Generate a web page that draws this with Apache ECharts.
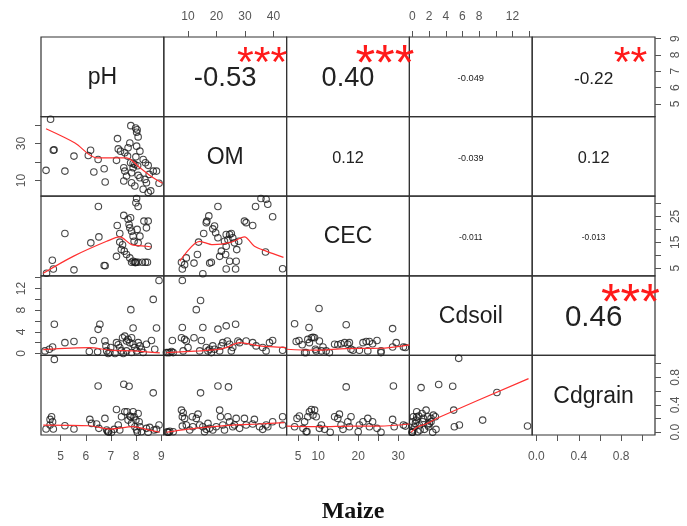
<!DOCTYPE html>
<html><head><meta charset="utf-8">
<script src="https://cdn.jsdelivr.net/npm/echarts@6/dist/echarts.min.js"></script>
<style>html,body{margin:0;padding:0;background:#fff}#c{width:687px;height:526px}</style>
</head><body><div id="c"></div>
<script>
// ---------------- DATA ----------------
const varNames = ['pH', 'OM', 'CEC', 'Cdsoil', 'Cdgrain'];
const varMin = [4.22, 1.5, 2.1, -0.36, -0.04];
const varMax = [9.1, 44.6, 32.8, 14.36, 1.12];

const ticksPH = [5, 6, 7, 8, 9];
const ticksOM = [10, 20, 30, 40];
const ticksCEC = [5, 10, 15, 20, 25, 30];
const ticksCdsoil = [0, 2, 4, 6, 8, 10, 12, 14];
const ticksCdgrain = [0, 0.2, 0.4, 0.6, 0.8, 1.0];

const topLabelsOM = [10, 20, 30, 40];
const topLabelsCdsoil = [0, 2, 4, 6, 8, 12];
const bottomLabelsPH = [5, 6, 7, 8, 9];
const bottomLabelsCEC = [5, 10, 20, 30];
const bottomLabelsCdgrain = [0, 0.4, 0.8];
const leftLabelsOM = [10, 30];
const leftLabelsCdsoil = [0, 4, 8, 12];
const rightLabelsPH = [5, 6, 7, 8, 9];
const rightLabelsCEC = [5, 15, 25];
const rightLabelsCdgrain = [0, 0.4, 0.8];

// upper panels, order (row,col): (0,1)(0,2)(0,3)(0,4)(1,2)(1,3)(1,4)(2,3)(2,4)(3,4)
const corrRows = [0, 0, 0, 0, 1, 1, 1, 2, 2, 3];
const corrCols = [1, 2, 3, 4, 2, 3, 4, 3, 4, 4];
const corrValues = [-0.53, 0.40, -0.049, -0.22, 0.12, -0.039, 0.12, -0.011, -0.013, 0.46];
const corrLabels = ['-0.53', '0.40', '-0.049', '-0.22', '0.12', '-0.039', '0.12', '-0.011', '-0.013', '0.46'];
const corrStars = ['***', '***', '', '**', '', '', '', '', '', '***'];

const pH_OM = [[4.6,43.2],[4.42,15.5],[4.71,26.4],[4.74,26.6],[5.17,15.1],[5.53,23.2],[6.19,26.4],[6.1,23.5],[6.49,21.4],[6.32,14.6],[6.73,16.4],[6.77,9.2],[7.22,20.9],[7.26,32.7],[7.29,27.1],[7.38,25.9],[7.79,39.7],[7.98,38.4],[8.04,37.5],[8.02,36.1],[8.08,33.6],[7.75,30.3],[7.68,27.7],[7.55,25.0],[7.66,23.2],[7.78,19.6],[7.88,19.2],[7.95,18.7],[8.06,18.0],[8.15,25.9],[7.99,22.8],[8.28,21.4],[8.37,19.6],[8.48,18.2],[8.68,15.1],[8.81,15.1],[8.52,13.3],[8.15,11.5],[8.35,10.6],[8.41,8.8],[8.28,5.3],[8.48,3.5],[8.58,4.4],[8.91,8.5],[7.51,16.9],[7.55,15.1],[7.82,14.2],[7.62,12.4],[7.51,9.7],[7.82,8.8],[7.95,7.0],[8.08,12.8],[7.88,16.9],[8.02,28.6]];
const fit_pH_OM = [[4.42,38.0],[5.57,30.3],[6.43,22.3],[7.62,22.3],[8.15,16.9],[8.68,11.5],[9.05,8.5]];

const pH_CEC = [[4.44,3.1],[4.67,8.1],[4.71,4.7],[5.17,18.4],[5.53,4.4],[6.2,14.8],[6.5,28.8],[6.52,17.1],[6.73,6.1],[6.77,6.0],[7.22,9.6],[7.25,21.5],[7.35,18.4],[7.46,14.1],[7.51,25.4],[7.68,23.9],[7.72,21.9],[7.75,20.6],[7.82,19.3],[7.88,17.4],[7.92,15.4],[8.02,31.9],[7.99,30.3],[8.08,28.8],[7.78,24.5],[8.04,20.0],[8.08,14.8],[8.31,23.2],[8.48,23.2],[8.41,20.6],[8.15,17.4],[8.48,13.5],[7.53,11.6],[7.62,10.3],[7.75,9.0],[7.88,7.7],[7.82,7.3],[7.95,7.3],[7.97,7.2],[8.0,7.3],[8.08,7.3],[8.25,7.3],[8.37,7.3],[8.45,7.3],[7.35,15.1],[7.41,12.2]];
const fit_pH_CEC = [[4.31,3.1],[5.5,9.6],[6.83,15.4],[7.35,17.1],[7.82,14.1],[8.41,13.5],[8.6,13.2]];

const OM_CEC = [[7.7,7.3],[8.8,6.4],[8.0,4.7],[9.4,9.0],[12.1,7.0],[13.3,10.3],[15.2,2.9],[15.5,18.4],[13.7,15.1],[16.6,23.2],[17.3,25.2],[16.4,22.6],[20.5,28.8],[17.6,7.0],[18.2,7.3],[18.7,20.2],[19.3,21.3],[19.7,18.7],[21.1,9.6],[21.7,11.6],[20.5,16.8],[23.4,18.0],[24.6,18.0],[25.2,18.4],[24.0,16.1],[23.4,13.5],[23.2,10.3],[24.6,7.7],[25.7,16.8],[26.3,14.8],[27.1,12.2],[27.8,15.4],[26.9,7.7],[23.4,4.7],[26.7,4.7],[29.8,23.2],[30.4,22.6],[32.7,21.5],[33.7,28.8],[35.6,31.9],[37.4,31.6],[38.0,29.7],[39.7,24.9],[37.2,11.3],[43.2,4.8],[22.8,15.4]];
const fit_OM_CEC = [[7.1,7.7],[14.1,15.4],[18.7,14.1],[25.0,15.0],[29.8,17.1],[33.3,13.5],[37.4,11.6],[43.5,9.2]];

const pH_Cdsoil = [[4.38,0.47],[4.55,0.78],[4.68,1.2],[4.75,5.4],[5.17,2.0],[5.53,2.2],[6.14,0.35],[6.3,2.4],[6.47,0.3],[6.49,4.46],[6.56,5.4],[6.76,2.3],[6.8,1.4],[6.83,0.47],[6.89,0.0],[6.96,0.17],[7.22,2.0],[7.29,1.6],[7.35,1.1],[7.42,0.47],[7.46,2.9],[7.55,3.2],[7.62,2.3],[7.68,2.6],[7.75,2.0],[7.79,8.1],[7.82,2.9],[7.88,4.7],[7.88,1.7],[7.95,1.1],[8.02,0.47],[8.08,2.0],[8.15,1.4],[8.21,0.78],[8.28,0.17],[8.41,1.7],[8.61,2.4],[8.68,10.0],[8.74,0.78],[8.81,4.7],[8.91,13.5],[7.62,0.47],[7.82,0.17],[7.49,0.0],[7.16,0.0],[6.99,1.1]];
const fit_pH_Cdsoil = [[4.31,0.72],[6.16,1.08],[6.96,0.6],[7.88,0.47],[8.41,0.3],[8.94,0.1]];

const OM_Cdsoil = [[3.6,0.16],[4.2,0.35],[4.8,0.16],[8.0,13.5],[4.5,2.4],[7.7,2.9],[8.0,4.8],[8.3,0.47],[8.8,2.6],[9.4,2.3],[10.0,1.1],[12.1,2.9],[12.9,8.1],[14.4,9.8],[14.7,2.4],[15.2,4.8],[14.1,0.47],[16.4,1.1],[17.0,0.47],[18.2,0.16],[19.3,0.78],[20.5,4.5],[21.7,1.4],[22.2,2.0],[23.4,5.1],[23.8,2.3],[24.6,1.7],[25.2,0.47],[25.7,1.1],[26.7,5.4],[27.5,2.3],[28.1,2.0],[30.4,2.3],[32.7,2.0],[33.9,1.4],[36.2,1.1],[37.4,0.47],[38.6,2.0],[39.7,2.4],[43.2,0.6],[17.6,0.78],[18.7,1.4],[21.1,0.47],[2.4,0.16],[3.0,0.16]];
const fit_OM_Cdsoil = [[2.4,0.16],[14.1,0.47],[19.9,0.7],[23.4,1.08],[28.1,2.0],[35.1,1.4],[44.4,1.08]];

const CEC_Cdsoil = [[4.1,5.5],[4.5,2.2],[5.2,2.4],[6.0,1.6],[6.6,0.16],[7.0,0.16],[7.4,2.6],[7.7,4.8],[7.8,2.0],[8.3,2.9],[8.7,3.0],[9.1,2.9],[9.3,0.78],[10.2,8.3],[10.3,2.3],[11.2,1.2],[12.0,0.47],[12.8,0.16],[14.1,1.7],[14.9,1.6],[15.7,1.8],[16.6,2.0],[17.0,5.3],[17.4,1.7],[17.8,2.0],[18.2,0.78],[18.7,0.6],[20.3,0.6],[21.2,2.0],[22.0,2.2],[22.4,0.47],[22.8,2.2],[23.6,1.8],[24.7,2.4],[25.7,0.16],[25.7,0.47],[28.6,4.6],[28.6,1.2],[29.5,2.0],[31.3,1.2],[31.8,1.1],[9.5,0.47],[10.8,0.47]];
const fit_CEC_Cdsoil = [[2.1,0.78],[8.7,0.6],[17.0,0.9],[25.3,0.96],[32.8,1.6]];

const pH_Cdgrain = [[4.42,0.047],[4.58,0.105],[4.58,0.187],[4.64,0.226],[4.68,0.153],[4.71,0.047],[4.75,1.062],[5.17,0.095],[5.53,0.047],[6.16,0.187],[6.23,0.129],[6.43,0.12],[6.49,0.675],[6.52,0.057],[6.76,0.202],[6.83,0.032],[6.89,0.008],[6.91,0.004],[6.87,0.012],[7.02,0.0],[7.22,0.332],[7.29,0.105],[7.35,0.032],[7.42,0.226],[7.51,0.7],[7.55,0.298],[7.64,0.298],[7.68,0.177],[7.72,0.671],[7.75,0.236],[7.79,0.226],[7.82,0.129],[7.88,0.298],[7.92,0.226],[7.95,0.081],[7.99,0.177],[8.02,0.032],[8.05,0.0],[8.08,0.274],[8.12,0.153],[8.15,0.081],[8.21,0.008],[8.41,0.057],[8.48,0.0],[8.54,0.071],[8.68,0.574],[8.71,0.032],[8.81,0.042],[8.91,0.105],[7.13,0.042]];
const fit_pH_Cdgrain = [[4.31,0.105],[6.16,0.095],[6.96,0.047],[7.88,0.081],[8.41,0.042],[8.94,0.0]];

const OM_Cdgrain = [[3.0,0.0],[3.3,0.0],[3.6,0.015],[2.7,0.005],[4.8,0.008],[7.7,0.323],[8.0,0.226],[8.3,0.284],[8.8,0.202],[8.0,0.09],[9.4,0.105],[10.6,0.032],[11.5,0.226],[12.9,0.202],[13.5,0.264],[14.4,0.574],[14.1,0.105],[15.2,0.081],[15.8,0.008],[17.0,0.129],[17.6,0.057],[18.7,0.032],[19.9,0.081],[20.5,0.675],[21.1,0.323],[21.4,0.226],[22.2,0.105],[22.8,0.032],[24.2,0.661],[24.0,0.226],[24.6,0.153],[25.7,0.081],[26.3,0.105],[26.9,0.202],[28.1,0.057],[29.8,0.202],[30.4,0.105],[32.7,0.12],[33.3,0.187],[35.1,0.081],[36.2,0.042],[37.4,0.105],[38.0,0.081],[39.7,0.153],[43.2,0.226],[43.2,0.105],[11.7,0.081],[16.4,0.042]];
const fit_OM_Cdgrain = [[2.4,0.0],[9.4,0.042],[18.7,0.081],[25.7,0.105],[35.1,0.12],[43.8,0.14]];

const CEC_Cdgrain = [[4.1,0.081],[4.7,0.202],[5.3,0.236],[6.2,0.057],[6.6,0.153],[7.0,0.008],[7.2,0.01],[7.4,0.226],[7.8,0.298],[8.3,0.332],[8.7,0.25],[9.1,0.323],[9.5,0.226],[10.3,0.057],[10.8,0.105],[11.6,0.042],[13.0,0.0],[14.1,0.226],[14.9,0.202],[15.3,0.264],[15.7,0.105],[16.2,0.042],[17.0,0.661],[17.4,0.153],[17.8,0.081],[18.2,0.226],[20.0,0.008],[20.3,0.105],[21.2,0.153],[22.4,0.202],[22.8,0.081],[23.6,0.153],[24.7,0.057],[25.7,0.0],[28.6,0.187],[28.8,0.675],[29.0,0.081],[31.3,0.105],[31.8,0.09]];
const fit_CEC_Cdgrain = [[2.1,0.09],[10.3,0.081],[18.6,0.09],[25.3,0.09],[32.8,0.12]];

const Cdsoil_Cdgrain = [[-0.04,0.0],[0.0,0.005],[0.02,0.0],[0.04,0.032],[0.24,0.081],[0.36,0.129],[0.44,0.177],[0.52,0.226],[0.52,0.298],[0.76,0.236],[0.84,0.105],[1.04,0.651],[0.92,0.032],[1.24,0.153],[1.32,0.202],[1.64,0.323],[1.84,0.226],[1.96,0.081],[2.03,0.129],[2.23,0.202],[2.43,0.0],[2.51,0.25],[2.75,0.226],[2.83,0.042],[3.15,0.695],[0.64,0.008],[1.44,0.042],[1.84,0.105],[2.23,0.153],[1.16,0.274],[0.04,0.153],[0.12,0.226],[4.83,0.671],[4.95,0.323],[5.03,0.081],[5.63,0.105],[5.55,1.077],[8.42,0.177],[10.13,0.579],[13.8,0.091]];
const fit_Cdsoil_Cdgrain = [[-0.16,0.0],[0.64,0.081],[1.64,0.12],[3.15,0.216],[13.92,0.782]];

// lower panels: [row, col, points, fit]
const lowerPanels = [
  [1, 0, pH_OM, fit_pH_OM],
  [2, 0, pH_CEC, fit_pH_CEC],
  [2, 1, OM_CEC, fit_OM_CEC],
  [3, 0, pH_Cdsoil, fit_pH_Cdsoil],
  [3, 1, OM_Cdsoil, fit_OM_Cdsoil],
  [3, 2, CEC_Cdsoil, fit_CEC_Cdsoil],
  [4, 0, pH_Cdgrain, fit_pH_Cdgrain],
  [4, 1, OM_Cdgrain, fit_OM_Cdgrain],
  [4, 2, CEC_Cdgrain, fit_CEC_Cdgrain],
  [4, 3, Cdsoil_Cdgrain, fit_Cdsoil_Cdgrain]
];

// ---------------- LAYOUT ----------------
const L0 = 41, T0 = 37, CW = 122.8, RH = 79.6;
const FONT = 'Liberation Sans, Arial, sans-serif';
const tickSets = [ticksPH, ticksOM, ticksCEC, ticksCdsoil, ticksCdgrain];
const topLabels = [null, topLabelsOM, null, topLabelsCdsoil, null];
const bottomLabels = [bottomLabelsPH, null, bottomLabelsCEC, null, bottomLabelsCdgrain];
const leftLabels = [null, leftLabelsOM, null, leftLabelsCdsoil, null];
const rightLabels = [rightLabelsPH, null, rightLabelsCEC, null, rightLabelsCdgrain];
const fmt = (k) => (v) => k === 4 ? v.toFixed(1) : String(v);

const grids = [], xAxes = [], yAxes = [], series = [], graphics = [];
for (let r = 0; r < 5; r++) {
  for (let c = 0; c < 5; c++) {
    const i = r * 5 + c;
    grids.push({left: L0 + c * CW, top: T0 + r * RH, width: CW, height: RH,
      show: true, borderColor: '#333', borderWidth: 1.2});
    const xl = r === 0 ? topLabels[c] : (r === 4 ? bottomLabels[c] : null);
    xAxes.push({gridIndex: i, type: 'value', min: varMin[c], max: varMax[c],
      show: !!xl, position: r === 0 ? 'top' : 'bottom',
      axisLine: {show: false, onZero: false}, splitLine: {show: false},
      axisTick: {show: true, length: 6, lineStyle: {color: '#555'}, customValues: tickSets[c]},
      axisLabel: {show: true, customValues: xl || [], margin: r === 0 ? 14 : 16, color: '#555',
        fontSize: 12, fontFamily: FONT, formatter: fmt(c)}});
    const yl = c === 0 ? leftLabels[r] : (c === 4 ? rightLabels[r] : null);
    yAxes.push({gridIndex: i, type: 'value', min: varMin[r], max: varMax[r],
      show: !!yl, position: c === 0 ? 'left' : 'right',
      axisLine: {show: false, onZero: false}, splitLine: {show: false},
      axisTick: {show: true, length: 6, lineStyle: {color: '#555'}, customValues: tickSets[r]},
      axisLabel: {show: true, rotate: 90, customValues: yl || [], margin: c === 0 ? 13 : 15, color: '#555',
        fontSize: 12, fontFamily: FONT, formatter: fmt(r)}});
  }
}

lowerPanels.forEach(([r, c, pts, fit]) => {
  const i = r * 5 + c;
  series.push({type: 'scatter', xAxisIndex: i, yAxisIndex: i, data: pts, symbol: 'circle',
    symbolSize: 6.5, clip: false,
    itemStyle: {color: 'rgba(0,0,0,0)', borderColor: '#1a1a1a', borderWidth: 1.1}, z: 2});
  series.push({type: 'line', xAxisIndex: i, yAxisIndex: i, data: fit, showSymbol: false,
    smooth: 0.3, lineStyle: {color: '#ff3030', width: 1.2}, z: 3});
});

// diagonal labels
varNames.forEach((n, k) => {
  graphics.push({type: 'text', x: L0 + k * CW + CW / 2, y: T0 + k * RH + RH / 2 + 1,
    style: {text: n, fontSize: 23, fontFamily: FONT, fill: '#1e1e1e', align: 'center', verticalAlign: 'middle'}});
});

// correlation texts (R chart.Correlation sizing)
const mctx = document.createElement('canvas').getContext('2d');
mctx.font = '100px ' + FONT;
corrValues.forEach((v, k) => {
  const r = corrRows[k], c = corrCols[k];
  const txt = corrLabels[k];
  const em = mctx.measureText(txt).width / 100;
  const base = 0.8 * CW / em;
  const fs = base * (Math.abs(v) + 0.3) / 1.3;
  const x0 = L0 + c * CW, y0 = T0 + r * RH;
  graphics.push({type: 'text', x: x0 + CW / 2, y: y0 + RH / 2 + 2,
    style: {text: txt, fontSize: fs, fontFamily: FONT, fill: '#222', align: 'center', verticalAlign: 'middle'}});
  if (corrStars[k]) {
    graphics.push({type: 'text', x: x0 + 0.8 * CW, y: y0 + 0.2 * RH + 0.26 * base,
      style: {text: corrStars[k], fontSize: base, fontFamily: FONT, fill: '#ff1a1a', align: 'center', verticalAlign: 'middle'}});
  }
});

const chart = echarts.init(document.getElementById('c'));
chart.setOption({
  animation: false,
  backgroundColor: '#fff',
  title: {text: 'Maize', left: 348, top: 495, textAlign: 'center',
    textStyle: {fontFamily: 'Liberation Serif, Times New Roman, serif', fontWeight: 'bold', fontSize: 24, color: '#111'}},
  grid: grids, xAxis: xAxes, yAxis: yAxes, series: series,
  graphic: graphics
});
</script></body></html>
